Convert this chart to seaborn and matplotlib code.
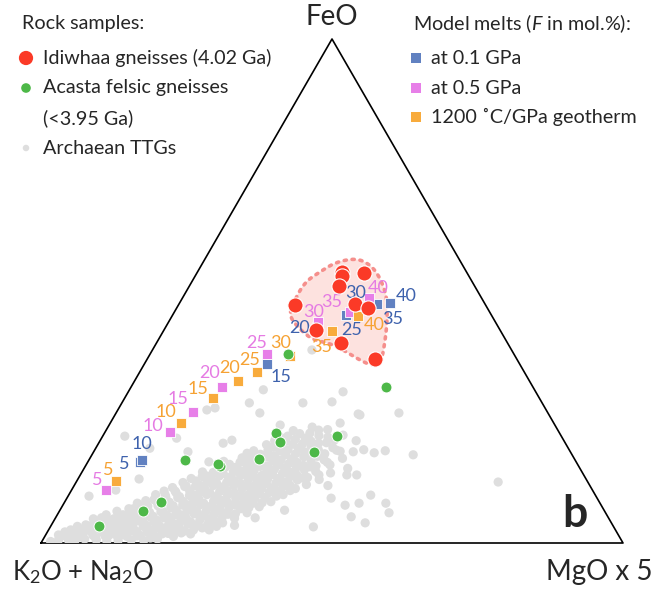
import numpy as np
import pandas as pd
import matplotlib
matplotlib.use("Agg")
import matplotlib.pyplot as plt
import seaborn as sns

sns.set_theme(style="white")
plt.rcParams['font.family'] = ['Lato', 'DejaVu Sans']
plt.rcParams['mathtext.fontset'] = 'custom'
plt.rcParams['mathtext.rm'] = 'Lato'
plt.rcParams['mathtext.it'] = 'Lato:italic'
plt.rcParams['mathtext.bf'] = 'Lato:bold'

# ---------------- data: FeO and MgO x 5 in % (remainder = K2O + Na2O) ----------------
idi_feo = [53.8, 53.0, 53.5, 50.9, 47.2, 47.4, 46.6, 42.3, 39.6, 36.6]
idi_mgo = [24.8, 25.2, 28.8, 25.8, 20.0, 30.2, 32.8, 26.1, 31.7, 39.1]

aca_feo = [37.5, 31.0, 21.2, 18.0, 21.9, 20.0, 16.7, 16.5, 15.3, 15.7, 8.1, 6.4, 3.4]
aca_mgo = [23.7, 43.7, 40.2, 37.9, 29.4, 31.0, 29.1, 16.5, 23.1, 22.6, 16.6, 14.3, 8.2]

melt_F = [5, 10, 15, 20, 25, 30, 35, 40]
m01_feo = [16.1, 16.4, 35.5, 42.9, 45.2, 47.0, 47.4, 47.6]
m01_mgo = [8.9, 9.1, 21.1, 26.0, 29.8, 31.5, 34.1, 36.1]
m05_feo = [10.5, 22.0, 25.9, 30.9, 37.5, 43.9, 45.9, 48.6]
m05_mgo = [5.9, 11.1, 13.1, 15.6, 20.0, 25.7, 30.1, 32.0]
geo_feo = [12.3, 23.8, 28.8, 32.1, 33.9, 37.1, 42.1, 45.0]
geo_mgo = [6.7, 12.1, 15.1, 17.8, 20.1, 24.2, 28.9, 32.0]

env_feo = [46.2, 51.5, 53.8, 55.8, 56.5, 55.2, 52.8, 48.9, 44.2, 40.3, 36.3, 35.1,
           36.3, 38.3, 39.6, 40.3, 42.3, 44.6]
env_mgo = [19.7, 19.3, 21.0, 22.9, 26.0, 29.0, 31.8, 35.0, 37.4, 39.0, 40.4, 39.5,
           36.6, 32.8, 29.8, 26.6, 23.4, 20.6]

ttg_mgo = [
    1.5, 2.2, 2.7, 3.4, 3.8, 4.5, 4.6,
    5.2, 5.6, 5.9, 6.3, 6.6, 7.1, 7.3,
    7.6, 8.2, 8.4, 8.6, 9.2, 9.3, 9.5,
    9.9, 10.3, 10.4, 10.6, 11.1, 11.2, 11.5,
    11.7, 12.1, 12.3, 12.4, 12.6, 13.0, 13.1,
    13.3, 13.6, 13.8, 14.1, 14.2, 14.5, 14.7,
    14.9, 15.2, 15.3, 15.4, 15.6, 15.8, 16.0,
    16.3, 16.4, 16.6, 16.8, 16.9, 17.1, 17.4,
    17.5, 17.7, 17.8, 18.0, 18.2, 18.4, 18.6,
    18.7, 18.9, 19.0, 19.2, 19.3, 19.6, 19.7,
    19.9, 20.0, 20.2, 20.4, 20.5, 20.7, 20.9,
    21.0, 21.2, 21.3, 21.5, 21.7, 21.8, 22.1,
    22.2, 22.4, 22.6, 22.7, 22.9, 23.0, 23.2,
    23.3, 23.5, 23.6, 23.8, 24.0, 24.1, 24.3,
    24.4, 24.6, 24.8, 24.9, 25.1, 25.3, 25.4,
    25.6, 25.7, 25.9, 26.1, 26.2, 26.4, 26.5,
    26.7, 26.8, 27.0, 27.1, 27.3, 27.4, 27.6,
    27.8, 27.9, 28.1, 28.3, 28.4, 28.6, 28.7,
    28.9, 29.0, 29.2, 29.3, 29.5, 29.7, 29.8,
    30.0, 30.1, 30.3, 30.4, 30.6, 30.8, 30.9,
    31.1, 31.3, 31.4, 31.6, 31.7, 31.9, 32.0,
    32.2, 32.4, 32.5, 32.7, 32.9, 33.0, 33.2,
    33.3, 33.5, 33.6, 33.9, 34.0, 34.2, 34.4,
    34.5, 34.7, 34.8, 35.0, 35.1, 35.4, 35.5,
    35.7, 35.9, 36.0, 36.2, 36.3, 36.5, 36.8,
    37.0, 37.2, 37.4, 37.5, 37.8, 38.0, 38.3,
    38.5, 38.7, 38.9, 39.1, 39.5, 39.8, 40.1,
    40.4, 40.7, 41.2, 41.5, 41.9, 42.3, 42.8,
    43.4, 44.0, 43.6, 45.3, 46.2,
    36.9, 36.0, 48.6, 42.1, 50.0, 48.3, 55.2,
    44.6, 45.8, 47.5, 51.9, 55.3, 56.8, 53.7,
    50.7, 45.2, 72.5, 45.4, 48.5, 50.7, 21.9,
    24.7, 31.1, 41.7, 21.4, 22.6, 20.8, 29.4,
    16.5, 15.3, 10.5, 3.6, 7.6, 16.2, 3.8,
    38.6, 9.3, 12.9, 23.0, 27.4, 34.3, 31.5,
    3.0, 4.0, 5.0, 6.0, 6.8, 7.8, 7.9,
    8.9, 9.0, 10.0, 10.1, 10.9, 11.0, 11.3, 12.0, 12.1, 12.5,
    13.0, 13.2, 13.4, 13.9, 14.4, 14.5, 14.9, 15.1,
    15.8, 15.9, 16.1, 16.4, 16.6, 17.1, 17.3, 17.5, 17.6, 17.9,
    18.3, 18.5, 18.6, 18.8, 19.0, 19.1, 19.4, 19.9, 20.1, 20.3, 20.6, 20.8, 20.9, 21.1,
    21.6, 21.8, 21.9, 22.1, 22.3, 22.5, 22.6, 22.8,
    23.1, 23.3, 23.4, 23.6, 23.7, 23.9, 24.0, 24.2,
    24.9, 25.0, 25.2, 25.5, 25.6, 25.9, 26.0, 26.2, 26.5,
    26.8, 26.9, 27.1, 27.3, 27.4, 27.6, 27.8, 28.0,
    28.5, 28.6, 28.8, 29.0, 29.1, 29.3, 29.4, 29.6, 29.8, 30.0,
    30.5, 30.6, 30.8, 31.0, 31.2, 31.3, 31.5, 31.6, 31.8,
    32.2, 32.3, 32.5, 32.6, 32.8, 33.0, 33.2, 33.4,
    34.0, 34.2, 34.4, 34.6, 34.7, 34.9, 35.1, 35.3,
    35.8, 36.0, 36.2, 36.4, 36.6, 36.8, 37.1,
    37.6, 37.8, 38.0, 38.2, 38.4, 38.8,
    39.3, 39.6, 39.9, 40.2, 41.0, 41.2, 41.6,
]
ttg_feo = [
    0.3, 1.6, 0.6, 1.4, 2.6, 0.5, 3.3,
    1.6, 0.4, 3.6, 2.2, 4.8, 0.8, 2.9,
    4.3, 1.5, 5.6, 3.2, 0.6, 2.2, 4.4,
    6.3, 1.4, 3.4, 5.2, 0.4, 2.6, 4.3,
    6.8, 1.6, 3.6, 5.6, 7.9, 0.5, 2.4,
    4.6, 6.4, 8.4, 1.3, 3.2, 5.4, 7.3,
    9.6, 0.6, 2.3, 4.2, 6.1, 8.2, 10.3,
    1.5, 3.5, 5.3, 7.2, 9.1, 11.0, 0.5,
    2.6, 4.5, 6.3, 8.1, 10.0, 12.0, 1.6,
    3.4, 5.5, 7.4, 9.2, 11.3, 0.8, 2.7,
    4.6, 6.5, 8.3, 10.3, 12.3, 14.1, 1.9,
    3.8, 5.6, 7.6, 9.5, 11.4, 13.3, 1.3,
    3.1, 5.0, 6.9, 8.8, 10.6, 12.6, 14.6,
    16.2, 2.4, 4.2, 6.1, 7.9, 9.9, 11.8,
    13.8, 15.6, 1.8, 3.6, 5.4, 7.2, 9.2,
    11.1, 13.0, 15.0, 16.9, 3.0, 4.8, 6.7,
    8.5, 10.4, 12.4, 14.3, 16.2, 18.3, 2.6,
    4.3, 6.2, 8.0, 9.9, 11.8, 13.7, 15.6,
    17.6, 19.5, 4.0, 5.7, 7.6, 9.4, 11.3,
    13.2, 15.2, 17.1, 19.0, 21.0, 4.9, 6.8,
    8.6, 10.5, 12.4, 14.4, 16.3, 18.3, 20.2,
    22.3, 6.0, 7.9, 9.8, 11.7, 13.6, 15.5,
    17.5, 19.6, 21.7, 7.2, 9.0, 10.9, 12.8,
    14.8, 16.7, 18.8, 20.8, 23.0, 8.2, 10.3,
    12.1, 14.0, 16.0, 18.1, 20.2, 22.4, 9.6,
    11.5, 13.5, 15.4, 17.5, 19.8, 22.5, 10.8,
    12.9, 15.1, 17.2, 19.9, 23.8, 11.6, 14.2,
    16.5, 18.9, 21.4, 12.6, 15.5, 18.2, 13.9,
    16.8, 20.3, 11.4, 14.8, 18.5,
    30.0, 28.0, 25.8, 25.4, 18.3, 17.9, 17.5,
    18.1, 13.5, 13.5, 9.5, 7.9, 6.0, 4.0,
    5.2, 3.2, 12.1, 8.9, 7.5, 7.9, 27.8,
    25.8, 27.8, 25.6, 19.8, 20.4, 16.1, 23.4,
    26.8, 26.4, 12.7, 9.3, 10.5, 18.1, 21.2,
    6.5, 18.8, 20.8, 30.4, 38.3, 5.0, 3.5,
    2.2, 1.6, 2.8, 1.2, 3.4, 2.0, 5.0,
    1.0, 3.9, 2.4, 4.8, 1.5, 3.5, 5.6, 2.8, 4.6, 6.8,
    1.6, 3.5, 5.6, 7.4, 2.4, 4.4, 6.4, 8.6,
    1.4, 3.3, 5.2, 7.4, 9.5, 2.2, 4.2, 6.2, 8.2, 10.3,
    1.0, 3.0, 5.0, 7.0, 9.0, 11.2, 12.8, 1.8, 3.6, 5.6, 7.5, 9.4, 11.3, 13.2,
    2.2, 4.4, 6.4, 8.2, 10.1, 12.0, 14.0, 15.6,
    2.0, 3.8, 5.8, 7.6, 9.6, 11.4, 13.3, 15.1,
    2.6, 4.6, 6.4, 8.3, 10.2, 12.0, 14.1, 16.0, 17.8,
    3.7, 5.6, 7.6, 9.5, 11.4, 13.4, 15.2, 17.0,
    3.3, 5.1, 7.0, 8.9, 10.8, 12.6, 14.5, 16.5, 18.4, 20.3,
    5.8, 7.7, 9.6, 11.5, 13.4, 15.3, 17.3, 19.2, 21.2,
    7.0, 8.9, 10.8, 12.7, 14.6, 16.5, 18.5, 20.6,
    8.0, 10.0, 11.9, 13.8, 15.7, 17.7, 19.7, 21.8,
    9.3, 11.2, 13.1, 15.0, 17.1, 19.2, 21.3,
    10.4, 12.5, 14.5, 16.4, 18.5, 21.0,
    13.0, 15.3, 17.7, 20.4, 13.5, 16.0, 18.4,
]

# label offsets (pixels, +x right, +y down) -- styling only
m01_off = [(-15, 2), (0, -16), (14, 13), (-18, 1), (6, 15), (-5, -13), (15, 15), (17, -7)]
m05_off = [(-9, -10), (-17, -6), (-15, -13), (-12, -14), (-10, -11), (-5, -10), (-18, -10), (10, -10)]
geo_off = [(-8, -11), (-15, -11), (-15, -9), (-8, -13), (-7, -12), (-9, -13), (-10, 16), (16, 9)]

# ---------------- colours ----------------
C_RED = '#fb3a27'
C_GREEN = '#4db848'
C_GRAY = '#dedede'
C_BLUE = '#6181c1'
C_PINK = '#e77fe8'
C_ORANGE = '#f8ab3c'
T_BLUE = '#3e62ad'
T_PINK = '#e57be3'
T_ORANGE = '#f6a233'

H = np.sqrt(3) / 2


def tern(feo, mgo):
    f = np.asarray(feo, float) / 100.0
    m = np.asarray(mgo, float) / 100.0
    return pd.DataFrame({'x': m + 0.5 * f, 'y': H * f})


W, Hpx = 657, 593
fig = plt.figure(figsize=(W / 100, Hpx / 100), dpi=100)
ax = fig.add_axes([41 / W, 50 / Hpx, 582 / W, 504 / Hpx])
ax.set_xlim(0, 1)
ax.set_ylim(0, H)
ax.axis('off')

# triangle
tri = pd.DataFrame({'x': [0, 1, 0.5, 0], 'y': [0, 0, H, 0]})
ax.plot(tri.x, tri.y, color='black', lw=1.2, clip_on=False, zorder=1)

# TTGs
sns.scatterplot(data=tern(ttg_feo, ttg_mgo), x='x', y='y', ax=ax, s=44, color=C_GRAY,
                edgecolor='none', linewidth=0, zorder=2, legend=False)

# envelope around Idiwhaa samples (smoothed closed curve)
env = tern(env_feo, env_mgo)[['x', 'y']].to_numpy()
for _ in range(3):
    q = 0.75 * env + 0.25 * np.roll(env, -1, axis=0)
    r = 0.25 * env + 0.75 * np.roll(env, -1, axis=0)
    env = np.empty((2 * len(q), 2))
    env[0::2] = q
    env[1::2] = r
env = np.vstack([env, env[:1]])
ax.fill(env[:, 0], env[:, 1], color='#fde2df', zorder=3, lw=0)
ax.plot(env[:, 0], env[:, 1], color='#f58f8c', lw=2.6, ls=(0, (0.6, 1.6)),
        dash_capstyle='round', zorder=3.1)

# model melts
for feo, mgo, col, tcol, offs in [(m01_feo, m01_mgo, C_BLUE, T_BLUE, m01_off),
                                  (m05_feo, m05_mgo, C_PINK, T_PINK, m05_off),
                                  (geo_feo, geo_mgo, C_ORANGE, T_ORANGE, geo_off)]:
    d = tern(feo, mgo)
    sns.scatterplot(data=d, x='x', y='y', ax=ax, marker='s', s=62, color=col,
                    edgecolor='white', linewidth=0.6, zorder=4, legend=False)
    for (xx, yy), F, (dx, dy) in zip(d[['x', 'y']].to_numpy(), melt_F, offs):
        ax.annotate(str(F), (xx, yy), xytext=(dx * 0.72, -dy * 0.72), textcoords='offset points',
                    ha='center', va='center', fontsize=13, color=tcol, zorder=4.5)

# Acasta felsic gneisses
sns.scatterplot(data=tern(aca_feo, aca_mgo), x='x', y='y', ax=ax, s=62, color=C_GREEN,
                edgecolor='white', linewidth=0.7, zorder=5, legend=False)
# Idiwhaa gneisses
sns.scatterplot(data=tern(idi_feo, idi_mgo), x='x', y='y', ax=ax, s=120, color=C_RED,
                edgecolor='white', linewidth=0.8, zorder=6, legend=False)

# ---------------- overlay: labels and legends in pixel space ----------------
ov = fig.add_axes([0, 0, 1, 1], facecolor='none')
ov.set_xlim(0, W)
ov.set_ylim(Hpx, 0)
ov.axis('off')

ov.text(332, 17, 'FeO', ha='center', va='center', fontsize=20)
ov.text(12, 572, r'K$_2$O + Na$_2$O', ha='left', va='center', fontsize=18.5)
ov.text(653, 572, 'MgO x 5', ha='right', va='center', fontsize=20)
ov.text(575, 514, 'b', ha='center', va='center', fontsize=32, fontweight='bold')

fs = 14.2
ov.text(22, 24, 'Rock samples:', ha='left', va='center', fontsize=fs)
ov.scatter([26], [58], s=105, color=C_RED, edgecolor='none')
ov.text(43, 58, 'Idiwhaa gneisses (4.02 Ga)', ha='left', va='center', fontsize=fs)
ov.scatter([26], [88], s=48, color=C_GREEN, edgecolor='none')
ov.text(43, 88, 'Acasta felsic gneisses', ha='left', va='center', fontsize=fs)
ov.text(43, 118, '(<3.95 Ga)', ha='left', va='center', fontsize=fs)
ov.scatter([26], [148], s=22, color=C_GRAY, edgecolor='none')
ov.text(43, 149, 'Archaean TTGs', ha='left', va='center', fontsize=fs)

ov.text(413, 24, r'Model melts ($F$ in mol.%):', ha='left', va='center', fontsize=fs)
ov.scatter([416], [58], s=42, marker='s', color=C_BLUE, edgecolor='none')
ov.text(431, 58, 'at 0.1 GPa', ha='left', va='center', fontsize=fs)
ov.scatter([416], [88], s=42, marker='s', color=C_PINK, edgecolor='none')
ov.text(431, 88, 'at 0.5 GPa', ha='left', va='center', fontsize=fs)
ov.scatter([416], [117], s=42, marker='s', color=C_ORANGE, edgecolor='none')
ov.text(431, 117, '1200 ˚C/GPa geotherm', ha='left', va='center', fontsize=fs)

fig.savefig('out.png', dpi=100)
